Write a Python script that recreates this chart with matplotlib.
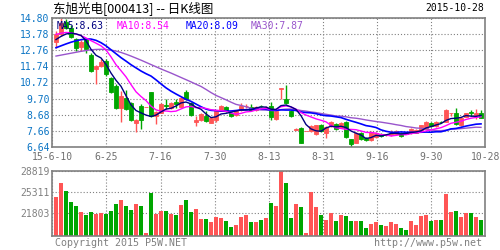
import numpy as np
import matplotlib
matplotlib.use('Agg')
import matplotlib.pyplot as plt

# daily bars (000413, 2015-06-10 .. 2015-10-28)
opens = [13.29, 13.78, 14.56, 14.20, 13.46, 13.00, 13.46, 12.45, 11.56, 11.77,
         12.09, 11.03, 10.50, 9.12, 9.76, 9.40, 8.13, 9.23, 9.17, 10.09,
         8.62, 8.80, 9.30, 9.12, 9.48, 9.19, 10.12, 9.40, 8.21, 8.34,
         8.59, 8.17, 8.34, 8.91, 9.19, 8.80, 8.64, 8.97, 9.20, 9.19,
         8.97, 9.25, 9.17, 9.23, 8.38, 10.33, 9.69, 8.91, 7.73, 7.85,
         7.62, 7.64, 7.43, 8.00, 7.53, 7.96, 8.06, 7.85, 8.21, 7.11,
         6.90, 7.49, 7.22, 7.07, 7.28, 7.45, 7.40, 7.36, 7.43, 7.49,
         7.50, 7.49, 7.53, 7.64, 7.79, 8.17, 7.96, 8.23, 8.21, 8.78,
         8.76, 8.00, 8.55, 8.82, 8.63, 8.80]
closes = [13.78, 14.52, 14.20, 13.63, 12.93, 13.29, 12.83, 11.45, 11.77, 12.04,
          11.24, 10.12, 9.12, 9.86, 9.06, 8.34, 8.34, 8.34, 9.17, 8.59,
          8.82, 9.33, 9.25, 9.40, 9.36, 9.76, 9.65, 8.64, 8.34, 8.70,
          8.28, 8.49, 8.91, 9.23, 8.91, 8.59, 8.91, 9.23, 9.23, 8.97,
          9.19, 9.20, 9.19, 8.55, 8.91, 10.39, 9.40, 8.59, 7.76, 6.90,
          7.62, 7.96, 8.00, 7.64, 7.91, 8.21, 7.75, 8.17, 7.28, 6.79,
          7.53, 7.11, 7.07, 7.58, 7.53, 7.32, 7.43, 7.53, 7.64, 7.32,
          7.47, 7.75, 7.70, 8.00, 8.21, 7.96, 8.21, 8.19, 8.97, 8.80,
          8.06, 8.49, 8.76, 8.78, 8.76, 8.49]
highs = [13.99, 14.80, 14.78, 14.35, 13.57, 13.42, 13.51, 12.57, 11.81, 12.19,
         12.19, 11.07, 10.60, 10.18, 10.24, 9.48, 8.38, 9.33, 9.17, 10.09,
         8.90, 9.40, 9.65, 9.45, 9.65, 9.80, 10.24, 9.45, 8.59, 8.75,
         8.91, 8.55, 8.95, 9.28, 9.25, 8.85, 8.95, 9.40, 9.33, 9.33,
         9.25, 9.31, 9.25, 9.48, 8.95, 10.39, 10.54, 8.95, 7.80, 7.90,
         7.62, 8.00, 8.05, 8.06, 7.95, 8.26, 8.12, 8.21, 8.26, 7.15,
         7.58, 7.55, 7.28, 7.62, 7.58, 7.50, 7.47, 7.70, 7.68, 7.55,
         7.53, 7.80, 7.75, 8.05, 8.28, 8.21, 8.25, 8.28, 9.02, 8.80,
         9.12, 8.52, 8.80, 8.97, 9.02, 8.97]
lows = [12.93, 13.67, 14.10, 13.57, 12.72, 12.72, 12.62, 11.40, 10.60, 11.73,
        11.13, 10.07, 9.06, 8.21, 8.97, 8.28, 7.58, 7.75, 9.17, 8.55,
        8.06, 8.75, 9.02, 9.05, 9.12, 9.15, 9.60, 8.60, 7.96, 8.30,
        8.22, 8.12, 8.21, 8.88, 8.85, 8.55, 8.60, 8.93, 9.12, 8.93,
        8.93, 9.14, 9.12, 8.34, 8.34, 9.69, 9.35, 8.55, 7.70, 6.85,
        7.62, 7.60, 7.38, 7.60, 7.22, 7.92, 7.70, 7.80, 7.22, 6.64,
        6.85, 7.05, 7.02, 7.00, 7.22, 7.28, 7.30, 7.32, 7.40, 7.28,
        7.43, 7.45, 7.50, 7.60, 7.75, 7.92, 7.92, 8.15, 8.19, 8.59,
        8.02, 7.96, 8.52, 8.59, 8.38, 8.45]
volumes = [24477, 26815, 25479, 23642, 22974, 21972, 21471, 21972, 21638, 21805,
           21638, 22139, 23308, 23976, 22974, 22306, 23308, 22974, 18465, 25145,
           21638, 22139, 22139, 21638, 21471, 23141, 23976, 21972, 22473, 20803,
           20803, 20302, 21137, 20970, 20469, 19467, 19801, 21137, 21471, 20302,
           20302, 20636, 20970, 23475, 22974, 28819, 26815, 20970, 23308, 22807,
           18465, 25312, 22807, 21471, 20636, 21805, 20469, 21471, 21304, 20469,
           20469, 20469, 19300, 19968, 20302, 19801, 19634, 20302, 19968, 19300,
           18966, 20469, 19801, 21304, 21471, 20469, 20636, 20636, 24978, 21972,
           22139, 21137, 21805, 21805, 21137, 20636]

# moving averages as drawn on the chart
ma5 = [13.45, 13.65, 13.80, 13.86, 13.81, 13.71, 13.38, 12.83, 12.45, 12.28,
       11.87, 11.32, 10.86, 10.48, 9.88, 9.30, 8.94, 8.79, 8.65, 8.56,
       8.65, 8.85, 9.03, 9.08, 9.23, 9.42, 9.48, 9.36, 9.15, 9.02,
       8.72, 8.49, 8.54, 8.72, 8.76, 8.83, 8.91, 8.97, 8.97, 8.99,
       9.11, 9.16, 9.16, 9.02, 9.01, 9.25, 9.29, 9.17, 9.01, 8.61,
       8.05, 7.77, 7.65, 7.62, 7.83, 7.94, 7.90, 7.94, 7.86, 7.64,
       7.50, 7.38, 7.16, 7.22, 7.36, 7.32, 7.39, 7.48, 7.49, 7.45,
       7.48, 7.54, 7.58, 7.65, 7.83, 7.92, 8.02, 8.11, 8.31, 8.43,
       8.45, 8.50, 8.62, 8.58, 8.57, 8.63]
ma10 = [13.78, 13.85, 13.90, 13.88, 13.80, 13.70, 13.55, 13.38, 13.22, 13.05,
        12.79, 12.35, 11.85, 11.47, 11.08, 10.59, 10.13, 9.83, 9.57, 9.22,
        8.98, 8.90, 8.91, 8.87, 8.90, 9.04, 9.17, 9.20, 9.12, 9.13,
        9.07, 8.99, 8.95, 8.94, 8.89, 8.78, 8.70, 8.76, 8.85, 8.88,
        8.97, 9.04, 9.07, 9.00, 9.00, 9.18, 9.23, 9.17, 9.02, 8.81,
        8.65, 8.53, 8.41, 8.32, 8.22, 8.00, 7.84, 7.80, 7.74, 7.74,
        7.72, 7.64, 7.55, 7.54, 7.50, 7.41, 7.39, 7.32, 7.36, 7.41,
        7.40, 7.47, 7.53, 7.57, 7.64, 7.70, 7.78, 7.85, 7.98, 8.13,
        8.19, 8.26, 8.37, 8.45, 8.50, 8.54]
ma20 = [12.93, 13.05, 13.17, 13.28, 13.37, 13.44, 13.48, 13.48, 13.40, 13.25,
        13.05, 12.80, 12.55, 12.30, 12.08, 11.85, 11.65, 11.45, 11.28, 11.13,
        10.89, 10.63, 10.38, 10.17, 9.99, 9.82, 9.65, 9.52, 9.35, 9.18,
        9.03, 8.95, 8.93, 8.91, 8.90, 8.91, 8.94, 8.98, 8.99, 9.01,
        9.02, 9.02, 9.01, 8.97, 8.95, 8.98, 8.97, 8.97, 8.94, 8.85,
        8.81, 8.79, 8.74, 8.66, 8.61, 8.59, 8.54, 8.49, 8.38, 8.28,
        8.19, 8.09, 7.98, 7.93, 7.86, 7.71, 7.62, 7.56, 7.55, 7.58,
        7.56, 7.56, 7.54, 7.56, 7.57, 7.56, 7.59, 7.59, 7.67, 7.77,
        7.80, 7.87, 7.95, 8.01, 8.07, 8.09]
ma30 = [12.40, 12.46, 12.52, 12.58, 12.64, 12.70, 12.75, 12.80, 12.82, 12.83,
        12.82, 12.78, 12.72, 12.63, 12.52, 12.40, 12.27, 12.14, 12.00, 11.86,
        11.72, 11.58, 11.45, 11.32, 11.18, 11.04, 10.90, 10.76, 10.61, 10.47,
        10.28, 10.08, 9.90, 9.76, 9.62, 9.47, 9.33, 9.26, 9.18, 9.08,
        9.01, 8.98, 8.98, 8.94, 8.93, 9.00, 9.03, 9.04, 9.00, 8.94,
        8.90, 8.85, 8.81, 8.75, 8.70, 8.65, 8.59, 8.58, 8.54, 8.48,
        8.45, 8.40, 8.34, 8.29, 8.24, 8.20, 8.15, 8.10, 8.04, 7.99,
        7.92, 7.88, 7.83, 7.81, 7.79, 7.70, 7.67, 7.66, 7.69, 7.76,
        7.77, 7.79, 7.82, 7.85, 7.88, 7.87]

date_labels = ['15-6-10', '6-25', '7-16', '7-30', '8-13', '8-31', '9-16', '9-30', '10-28']
price_ticks = [6.64, 7.66, 8.68, 9.70, 10.72, 11.74, 12.76, 13.78, 14.80]
vol_ticks = [21803, 25311, 28819]

RED = '#ff5555'
GREEN = '#00a600'
GRAY = '#808080'
MONO = 'DejaVu Sans Mono'

o = np.array(opens); c = np.array(closes)
h = np.array(highs); l = np.array(lows)
x = np.arange(len(o))
cols = np.where(c >= o, RED, GREEN)

fig = plt.figure(figsize=(5, 2.5), dpi=100)
ax = fig.add_axes([0.1046, 0.4132, 0.866, 0.5136])
axv = fig.add_axes([0.1046, 0.056, 0.866, 0.26])

xlim = (-0.74, 85.86)
xgrid = np.linspace(xlim[0], xlim[1], 9)

# candles
ax.vlines(x, l, h, colors=cols, lw=1)
ax.bar(x, np.abs(c - o), bottom=np.minimum(o, c), width=0.8,
       color=cols, edgecolor=cols, linewidth=0.6)

ax.plot(x, ma30, color='#9955cc', lw=1)
ax.plot(x, ma20, color='#0000ff', lw=1.2)
ax.plot(x, ma10, color='#ff00ff', lw=1)
ax.plot(x, ma5, color='#000080', lw=1)

ax.set_xlim(*xlim)
ax.set_ylim(price_ticks[0], price_ticks[-1])
ax.set_yticks(price_ticks)
ax.set_yticklabels([f'{t:.2f}' for t in price_ticks], color='#0a74c4',
                   fontsize=7, family=MONO)
ax.set_xticks(xgrid)
ax.set_xticklabels(date_labels, color='#707070', fontsize=7, family=MONO)
ax.tick_params(length=0, pad=2)
ax.tick_params(axis='x', pad=4)

# volume
axv.bar(x, volumes, width=0.8, color=cols, linewidth=0)
axv.set_xlim(*xlim)
axv.set_ylim(18011, 28819)
axv.set_yticks(vol_ticks)
axv.set_yticklabels([str(t) for t in vol_ticks], color=GRAY, fontsize=7, family=MONO)
axv.set_xticks(xgrid)
axv.set_xticklabels([])
axv.tick_params(length=0, pad=2)

for a in (ax, axv):
    a.grid(True, color=GRAY, lw=0.8, linestyle=(0, (1, 1.8)))
    a.set_axisbelow(True)
    for s in a.spines.values():
        s.set_color(GRAY)
        s.set_linewidth(1.2)

# header texts
fig.text(53 / 500, 1 - 8 / 250, '东旭光电[000413] -- 日K线图', fontsize=9,
         family=['Noto Sans CJK SC', 'DejaVu Sans'], va='center', ha='left')
fig.text(484 / 500, 1 - 8 / 250, '2015-10-28', fontsize=7, family=MONO,
         va='center', ha='right')

ma_labels = [('MA5', ma5, '#000080', 57), ('MA10', ma10, '#ff00ff', 117),
             ('MA20', ma20, '#0000ff', 186), ('MA30', ma30, '#9955cc', 251)]
for name, vals, col, px in ma_labels:
    fig.text(px / 500, 1 - 26 / 250, f'{name}:{vals[-1]:.2f}', color=col,
             fontsize=7, family=MONO, va='center', ha='left')

fig.text(55 / 500, 1 - 243 / 250, 'Copyright 2015 P5W.NET', color=GRAY,
         fontsize=7.2, family=MONO, va='center', ha='left')
fig.text(482 / 500, 1 - 243 / 250, 'http://www.p5w.net', color=GRAY,
         fontsize=7.2, family=MONO, va='center', ha='right')

fig.savefig('out.png', dpi=100, facecolor='white')
